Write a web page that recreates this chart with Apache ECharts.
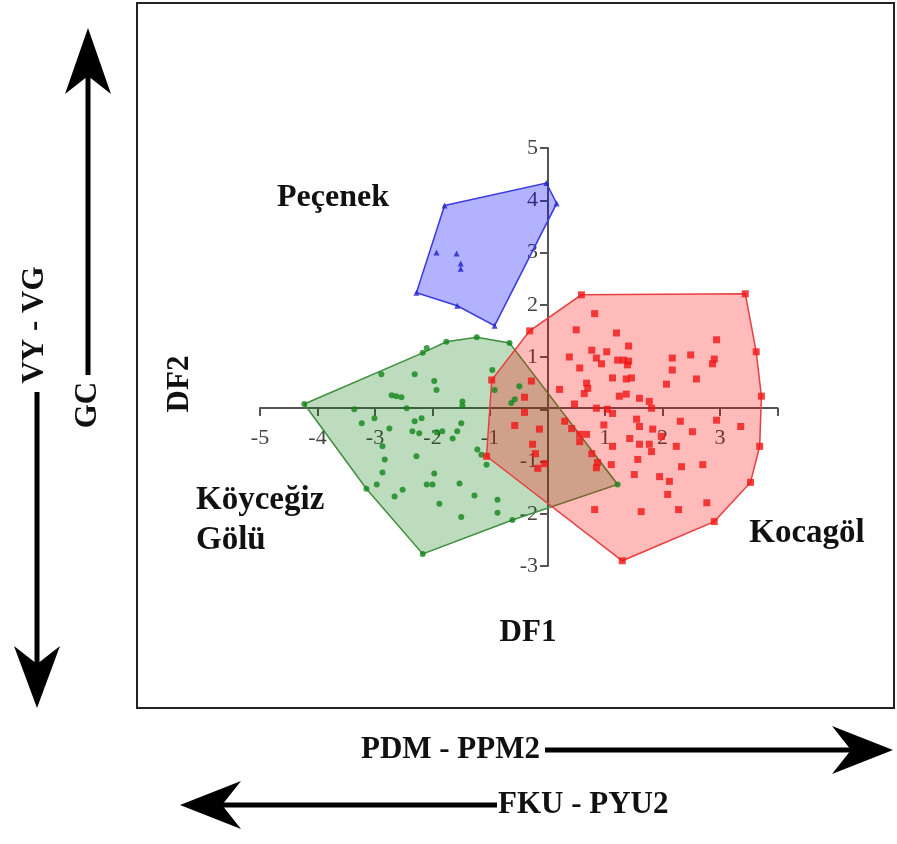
<!DOCTYPE html>
<html>
<head>
<meta charset="utf-8">
<script src="https://cdn.jsdelivr.net/npm/echarts@6/dist/echarts.min.js"></script>
<style>
  html, body { margin: 0; padding: 0; background: #fff; }
  #chart { width: 897px; height: 844px; }
</style>
</head>
<body>
<div id="chart"></div>
<script>
// tick labels shown on the crossing axes (0 and 4 are left blank)
const xTickValues = [-5, -4, -3, -2, -1, 1, 2, 3];
const yTickValues = [-3, -2, -1, 1, 2, 3, 4, 5];

// Peçenek (blue triangles)
const pecenekHull = [[-1.79, 3.90], [-0.02, 4.33], [0.16, 3.94], [-0.92, 1.60], [-1.57, 1.98], [-2.28, 2.23]];
const pecenekPoints = [[-1.93, 3.00], [-1.58, 2.98], [-1.51, 2.79], [-1.51, 2.69]];

// Kocagöl (red squares)
const kocagolHull = [[0.59, 2.19], [3.44, 2.21], [3.63, 1.10], [3.72, 0.25], [3.69, -0.71], [3.53, -1.40],
  [2.90, -2.15], [1.30, -2.90], [-1.06, -0.90], [-0.97, 0.56], [-0.31, 1.50]];
const kocagolPoints = [
  [0.82, 1.83], [0.50, 1.52], [1.20, 1.46], [1.41, 1.21], [0.77, 1.13], [0.38, 1.00], [0.56, 0.79],
  [0.85, 0.98], [0.94, 0.87], [1.22, 0.94], [1.32, 0.94], [1.41, 0.92], [1.39, 0.85], [1.13, 0.60],
  [1.37, 0.58], [1.46, 0.60], [0.68, 0.50], [0.70, 0.40], [0.21, 0.38], [1.25, 0.25], [1.37, 0.29],
  [1.60, 0.21], [1.77, 0.15], [1.81, 0.02], [0.47, 0.10], [0.85, 0.02], [1.04, 0.00], [1.13, -0.08],
  [2.17, 0.98], [2.17, 0.75], [2.49, 1.04], [2.07, 0.48], [2.59, 0.58], [2.94, 1.33], [2.90, 0.96],
  [2.87, 0.87], [1.55, -0.19], [1.60, -0.33], [1.83, -0.38], [2.31, -0.23], [2.94, -0.21], [3.36, -0.33],
  [0.30, -0.23], [0.42, -0.37], [0.56, -0.48], [0.68, -0.48], [0.56, -0.62], [0.77, -0.85], [0.87, -1.02],
  [0.85, -1.12], [1.11, -1.06], [1.13, -0.71], [1.43, -0.56], [1.60, -0.67], [1.77, -0.67], [1.81, -0.81],
  [2.24, -0.71], [2.33, -1.10], [2.70, -1.06], [1.57, -0.96], [1.51, -1.25], [1.95, -1.29], [2.12, -1.38],
  [2.09, -1.63], [2.28, -1.92], [2.77, -1.79], [1.63, -1.96], [0.82, -1.92], [-0.57, -0.31], [-0.14, -0.38],
  [-0.26, -0.67], [-0.21, -0.85], [-0.17, -1.13], [-0.40, 0.23], [-0.40, -0.06], [-0.28, 0.54], [-0.05, -1.04],
  [1.03, 1.10], [0.64, 0.30], [1.98, -0.52], [2.52, -0.43], [0.98, -0.30]
];

// Köyceğiz Gölü (green circles)
const koycegizHull = [[-4.23, 0.10], [-2.17, 1.08], [-1.76, 1.29], [-1.23, 1.38], [-0.66, 1.27], [1.22, -1.44],
  [-0.61, -2.12], [-2.17, -2.77], [-3.15, -1.52]];
const koycegizPoints = [
  [-2.10, 1.17], [-2.89, 0.67], [-2.31, 0.67], [-1.97, 0.54], [-1.93, 0.37], [-2.71, 0.27], [-2.63, 0.25],
  [-2.54, 0.23], [-3.36, 0.00], [-2.45, 0.02], [-1.48, 0.15], [-1.48, 0.06], [-3.01, -0.17], [-3.23, -0.27],
  [-2.75, -0.37], [-2.31, -0.23], [-2.19, -0.17], [-2.35, -0.42], [-2.23, -0.46], [-1.93, -0.44], [-1.83, -0.42],
  [-1.65, -0.56], [-1.57, -0.42], [-1.50, -0.27], [-1.22, -0.77], [-1.15, -0.87], [-1.06, -1.06], [-2.28, -0.90],
  [-2.83, -0.96], [-2.87, -0.71], [-2.87, -1.21], [-1.97, -1.23], [-2.10, -1.44], [-2.00, -1.44], [-1.53, -1.42],
  [-2.97, -1.44], [-2.52, -1.54], [-2.66, -1.67], [-1.88, -1.81], [-1.27, -1.65], [-0.87, -1.73], [-1.50, -2.06],
  [-0.87, -1.98], [-0.96, 0.75], [-0.92, 0.37], [-0.49, 0.44], [-0.57, 0.19], [-0.63, 0.12]
];

const chart = echarts.init(document.getElementById('chart'));
const serif = '"Liberation Serif", "DejaVu Serif", serif';

function hullSeries(hull, fill, stroke) {
  return {
    type: 'custom',
    silent: true,
    z: 1,
    data: hull,
    encode: { x: 0, y: 1 },
    renderItem: (params, api) => {
      if (params.dataIndex !== 0) return null;
      return {
        type: 'polygon',
        shape: { points: hull.map(p => api.coord(p)) },
        style: { fill: fill, stroke: stroke, lineWidth: 1.5 }
      };
    }
  };
}

function bigText(text, x, y, size, align, extra) {
  return Object.assign({
    type: 'text', x: x, y: y, z: 10,
    style: { text: text, font: 'bold ' + size + 'px ' + serif, fill: '#111', align: align || 'center', verticalAlign: 'middle' }
  }, extra || {});
}

const axisColor = '#555';
const option = {
  animation: false,
  backgroundColor: '#fff',
  grid: { left: 260, right: 119.5, top: 148, bottom: 278 },
  xAxis: {
    type: 'value', min: -5, max: 4, interval: 1,
    position: 'bottom', offset: -158,
    axisLine: { onZero: false, lineStyle: { color: axisColor, width: 2 } },
    axisTick: { length: 8, lineStyle: { color: axisColor, width: 2 } },
    axisLabel: {
      margin: 19, fontFamily: serif, fontSize: 22, color: '#444',
      formatter: v => xTickValues.includes(v) ? String(v) : ''
    },
    splitLine: { show: false }
  },
  yAxis: {
    type: 'value', min: -3, max: 5, interval: 1,
    position: 'left', offset: -288,
    axisLine: { onZero: false, lineStyle: { color: axisColor, width: 2 } },
    axisTick: { length: 8, lineStyle: { color: axisColor, width: 2 } },
    axisLabel: {
      margin: 10, fontFamily: serif, fontSize: 22, color: '#444',
      formatter: v => yTickValues.includes(v) ? String(v) : ''
    },
    splitLine: { show: false }
  },
  series: [
    hullSeries(koycegizHull, 'rgba(0,120,0,0.26)', '#3f8f3f'),
    hullSeries(kocagolHull, 'rgba(255,0,0,0.27)', '#e84040'),
    hullSeries(pecenekHull, 'rgba(0,0,255,0.3)', '#3a3ae0'),
    {
      type: 'scatter', name: 'Köyceğiz Gölü', z: 3, symbol: 'circle', symbolSize: 6,
      itemStyle: { color: '#13861a' },
      data: koycegizHull.concat(koycegizPoints)
    },
    {
      type: 'scatter', name: 'Kocagöl', z: 3, symbol: 'rect', symbolSize: 7,
      itemStyle: { color: '#f01515' },
      data: kocagolHull.concat(kocagolPoints)
    },
    {
      type: 'scatter', name: 'Peçenek', z: 3, symbol: 'triangle', symbolSize: 6,
      itemStyle: { color: '#2020c8' },
      data: pecenekHull.concat(pecenekPoints)
    }
  ],
  graphic: [
    // frame
    { type: 'rect', shape: { x: 137, y: 3, width: 757, height: 705 }, style: { fill: null, stroke: '#222', lineWidth: 2 } },
    // group labels
    bigText('Peçenek', 333, 198, 32),
    bigText('Köyceğiz', 196, 500, 33, 'left'),
    bigText('Gölü', 196, 540, 33, 'left'),
    bigText('Kocagöl', 807, 533, 33),
    bigText('DF1', 528, 633, 31),
    bigText('DF2', 180, 384, 31, 'center', { rotation: Math.PI / 2 }),
    // vertical arrows
    bigText('VY - VG', 35, 325, 31, 'center', { rotation: Math.PI / 2 }),
    { type: 'rect', shape: { x: 34.5, y: 392, width: 5, height: 275 }, style: { fill: '#000' } },
    { type: 'polygon', shape: { points: [[37, 708], [14, 646], [37, 664], [60, 646]] }, style: { fill: '#000' } },
    bigText('GC', 88, 405, 31, 'center', { rotation: Math.PI / 2 }),
    { type: 'rect', shape: { x: 85.5, y: 75, width: 5, height: 300 }, style: { fill: '#000' } },
    { type: 'polygon', shape: { points: [[88, 28], [65, 94], [88, 76], [111, 94]] }, style: { fill: '#000' } },
    // horizontal arrows
    bigText('PDM - PPM2', 540, 750, 31, 'right'),
    { type: 'rect', shape: { x: 545, y: 747.5, width: 310, height: 5 }, style: { fill: '#000' } },
    { type: 'polygon', shape: { points: [[893, 750], [832, 726], [851, 750], [832, 774]] }, style: { fill: '#000' } },
    bigText('FKU - PYU2', 498, 805, 31, 'left'),
    { type: 'rect', shape: { x: 220, y: 802.5, width: 277, height: 5 }, style: { fill: '#000' } },
    { type: 'polygon', shape: { points: [[180, 805], [241, 781], [222, 805], [241, 829]] }, style: { fill: '#000' } }
  ]
};
chart.setOption(option);
</script>
</body>
</html>
